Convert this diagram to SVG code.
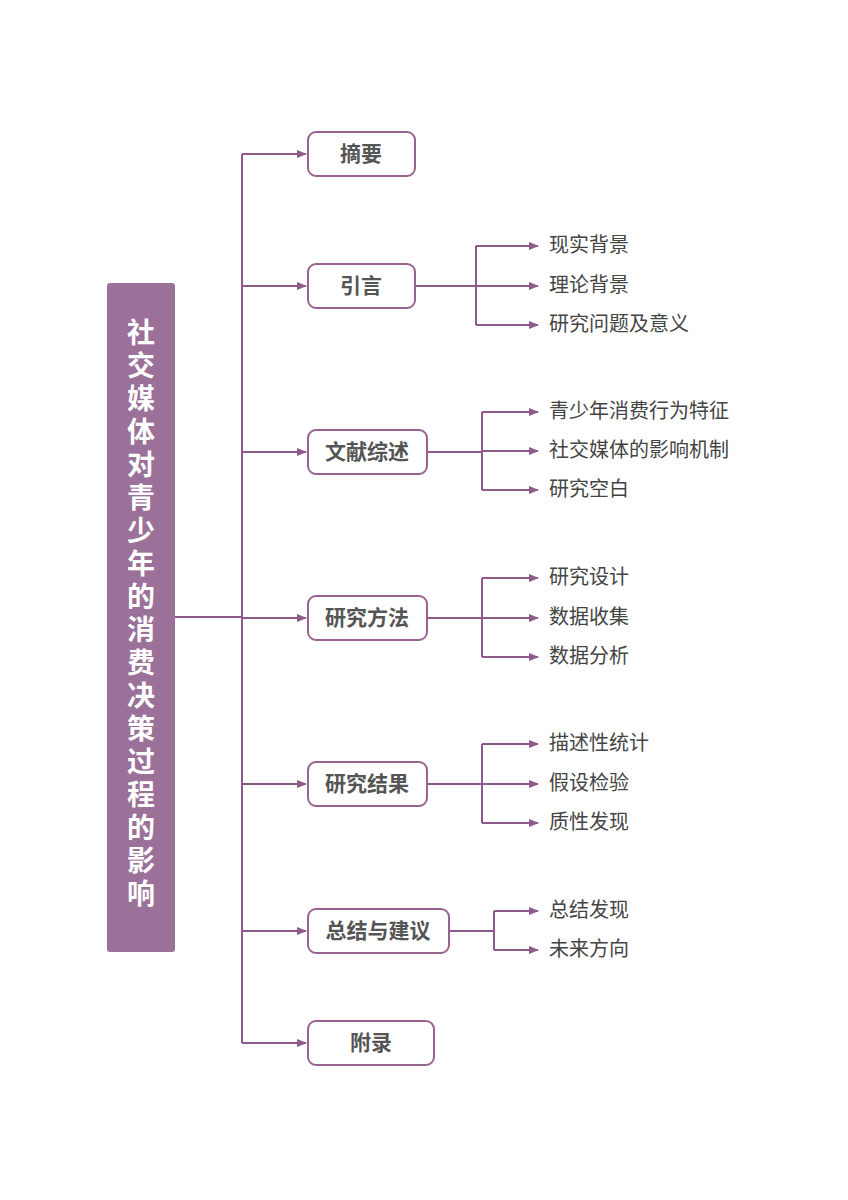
<svg xmlns="http://www.w3.org/2000/svg" width="848" height="1200" viewBox="0 0 848 1200">
<style>
.n{fill:#fff;stroke:#98648F;stroke-width:2}
.t{font-family:"Noto Sans CJK SC",sans-serif;font-weight:bold;font-size:21px;fill:#555;text-anchor:middle}
.c{font-family:"Noto Sans CJK SC",sans-serif;font-size:20px;fill:#444}
.l{fill:none;stroke:#8E5A8C;stroke-width:2}
.r{font-family:"Noto Sans CJK SC",sans-serif;font-weight:bold;font-size:28px;fill:#fff;text-anchor:middle}
</style>
<defs><marker id="a" markerWidth="10" markerHeight="8" refX="9" refY="4" orient="auto" markerUnits="userSpaceOnUse"><path d="M0,0L10,4L0,8z" fill="#8E5A8C"/></marker></defs>
<g id="root"><rect x="107" y="283" width="68" height="669" rx="3" fill="#9B7099"/>
<text class="r"><tspan x="141" y="343">社</tspan><tspan x="141" y="376">交</tspan><tspan x="141" y="409">媒</tspan><tspan x="141" y="442">体</tspan><tspan x="141" y="475">对</tspan><tspan x="141" y="508">青</tspan><tspan x="141" y="541">少</tspan><tspan x="141" y="574">年</tspan><tspan x="141" y="607">的</tspan><tspan x="141" y="640">消</tspan><tspan x="141" y="673">费</tspan><tspan x="141" y="706">决</tspan><tspan x="141" y="739">策</tspan><tspan x="141" y="772">过</tspan><tspan x="141" y="805">程</tspan><tspan x="141" y="838">的</tspan><tspan x="141" y="871">影</tspan><tspan x="141" y="904">响</tspan></text></g>
<g id="connectors">
<path class="l" d="M175,617H242M242,154V1043"/>
<path class="l" marker-end="url(#a)" d="M242,154H306"/>
<path class="l" marker-end="url(#a)" d="M242,286H306"/>
<path class="l" marker-end="url(#a)" d="M242,452H306"/>
<path class="l" marker-end="url(#a)" d="M242,618H306"/>
<path class="l" marker-end="url(#a)" d="M242,784H306"/>
<path class="l" marker-end="url(#a)" d="M242,931H306"/>
<path class="l" marker-end="url(#a)" d="M242,1043H306"/>
<path class="l" d="M415,286H476M476,246V325"/>
<path class="l" marker-end="url(#a)" d="M476,246H538"/><path class="l" marker-end="url(#a)" d="M476,286H538"/><path class="l" marker-end="url(#a)" d="M476,325H538"/>
<path class="l" d="M427,452H482M482,412V490"/>
<path class="l" marker-end="url(#a)" d="M482,412H538"/><path class="l" marker-end="url(#a)" d="M482,451H538"/><path class="l" marker-end="url(#a)" d="M482,490H538"/>
<path class="l" d="M427,618H482M482,578V657"/>
<path class="l" marker-end="url(#a)" d="M482,578H538"/><path class="l" marker-end="url(#a)" d="M482,618H538"/><path class="l" marker-end="url(#a)" d="M482,657H538"/>
<path class="l" d="M427,784H482M482,744V823"/>
<path class="l" marker-end="url(#a)" d="M482,744H538"/><path class="l" marker-end="url(#a)" d="M482,784H538"/><path class="l" marker-end="url(#a)" d="M482,823H538"/>
<path class="l" d="M449,931H494M494,911V950"/>
<path class="l" marker-end="url(#a)" d="M494,911H538"/><path class="l" marker-end="url(#a)" d="M494,950H538"/>
</g>
<g id="n1"><rect class="n" x="308" y="132" width="107" height="44" rx="8"/><text class="t" x="361" y="161">摘要</text></g>
<g id="n2"><rect class="n" x="308" y="264" width="107" height="44" rx="8"/><text class="t" x="361" y="293">引言</text></g>
<g id="n3"><rect class="n" x="308" y="430" width="119" height="44" rx="8"/><text class="t" x="367" y="459">文献综述</text></g>
<g id="n4"><rect class="n" x="308" y="596" width="119" height="44" rx="8"/><text class="t" x="367" y="625">研究方法</text></g>
<g id="n5"><rect class="n" x="308" y="762" width="119" height="44" rx="8"/><text class="t" x="367" y="791">研究结果</text></g>
<g id="n6"><rect class="n" x="308" y="909" width="141" height="44" rx="8"/><text class="t" x="378" y="938">总结与建议</text></g>
<g id="n7"><rect class="n" x="308" y="1021" width="126" height="44" rx="8"/><text class="t" x="371" y="1050">附录</text></g>
<g id="leaves">
<text class="c" x="549" y="252">现实背景</text><text class="c" x="549" y="292">理论背景</text><text class="c" x="549" y="331">研究问题及意义</text>
<text class="c" x="549" y="418">青少年消费行为特征</text><text class="c" x="549" y="457">社交媒体的影响机制</text><text class="c" x="549" y="496">研究空白</text>
<text class="c" x="549" y="584">研究设计</text><text class="c" x="549" y="624">数据收集</text><text class="c" x="549" y="663">数据分析</text>
<text class="c" x="549" y="750">描述性统计</text><text class="c" x="549" y="790">假设检验</text><text class="c" x="549" y="829">质性发现</text>
<text class="c" x="549" y="917">总结发现</text><text class="c" x="549" y="956">未来方向</text>
</g>
</svg>
